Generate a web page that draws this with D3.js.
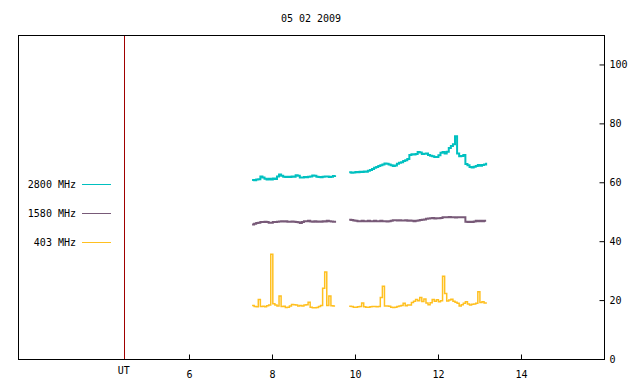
<!DOCTYPE html>
<html>
<head>
<meta charset="utf-8">
<script src="https://cdn.jsdelivr.net/npm/d3@7"></script>
<style>
  html, body { margin: 0; padding: 0; background: #fff; }
  svg { display: block; }
  text { font-family: "DejaVu Sans Mono", monospace; font-size: 10px; fill: #000; }
</style>
</head>
<body>
<svg id="chart" width="640" height="384"></svg>
<script>
// ---------- DATA ----------
const title = "05 02 2009";
const seriesNames = ["2800 MHz", "1580 MHz", "403 MHz"];
const seriesColors = ["#00c0c0", "#785a78", "#ffc020"];
const xTicks = [6, 8, 10, 12, 14];
const yTicks = [0, 20, 40, 60, 80, 100];
const utMarker = 4.43;
const utLabel = "UT";

// Hours UT, first observing block
const hoursA = [7.52,7.57,7.62,7.67,7.72,7.77,7.82,7.87,7.92,7.97,
  8.02,8.07,8.12,8.17,8.22,8.27,8.32,8.37,8.42,8.47,
  8.52,8.57,8.62,8.67,8.72,8.77,8.82,8.87,8.92,8.97,
  9.02,9.07,9.12,9.17,9.22,9.27,9.32,9.37,9.42,9.47,9.52];
// Hours UT, second observing block
const hoursB = [9.86,9.91,9.96,10.01,10.06,10.11,10.16,10.21,10.26,10.31,10.36,
  10.41,10.46,10.51,10.56,10.61,10.66,10.71,10.76,10.81,10.86,
  10.91,10.96,11.01,11.06,11.11,11.16,11.21,11.26,11.31,11.36,
  11.41,11.46,11.51,11.56,11.61,11.66,11.71,11.76,11.81,11.86,
  11.91,11.96,12.01,12.06,12.11,12.16,12.21,12.26,12.31,12.36,
  12.41,12.46,12.51,12.56,12.61,12.66,12.71,12.76,12.81,12.86,
  12.91,12.96,13.01,13.06,13.11,13.16];

const f2800A = [60.8,60.7,60.9,61.0,62.0,61.6,61.2,60.9,61.2,60.9,
  61.3,61.1,62.0,62.6,62.2,61.9,61.8,61.9,61.8,62.0,
  61.9,62.4,62.2,61.6,61.6,61.8,61.7,61.9,62.0,62.3,
  62.2,61.9,61.8,61.7,61.9,62.0,62.0,61.8,61.9,62.1,62.4];
const f2800B = [63.4,63.2,63.3,63.5,63.4,63.6,63.5,63.7,63.6,63.9,64.2,
  64.5,64.9,65.2,65.5,65.8,66.0,66.4,66.3,66.0,65.8,
  65.5,65.7,66.3,66.6,66.8,67.2,67.5,67.9,69.3,69.5,
  69.4,69.6,70.3,70.1,69.6,69.7,69.8,69.3,69.0,68.8,
  68.6,68.6,69.2,70.0,70.3,69.8,70.4,71.6,72.3,72.9,
  75.6,69.8,68.8,68.9,69.3,66.2,65.8,65.2,65.0,65.3,
  65.5,65.9,65.6,65.9,66.0,66.6];

const f1580A = [45.7,45.9,46.2,46.3,46.5,46.5,46.6,46.5,46.3,46.3,
  46.5,46.5,46.6,46.7,46.8,46.7,46.8,46.6,46.6,46.7,
  46.6,46.5,46.4,46.2,46.5,46.8,46.8,46.9,46.7,46.6,
  46.8,46.6,46.7,46.6,46.8,46.7,46.9,46.8,46.7,46.6,46.3];
const f1580B = [47.3,47.2,47.0,46.9,46.8,46.8,46.9,46.8,46.8,46.9,46.8,
  46.8,46.9,46.8,46.8,46.9,46.8,46.8,46.7,46.8,46.9,
  47.1,47.1,47.0,47.1,47.0,47.0,47.1,46.9,47.0,46.9,
  46.8,46.9,47.0,47.2,47.3,47.4,47.6,47.7,47.8,47.9,
  47.7,47.8,47.8,47.9,48.1,48.1,48.1,48.2,48.1,48.1,
  48.0,48.1,48.1,48.1,48.1,46.6,46.5,46.6,46.5,46.7,
  46.9,46.8,46.9,46.8,46.9,46.9];

const f403A = [18.2,17.8,17.7,20.2,17.8,17.9,17.7,18.1,18.3,35.6,
  18.8,18.3,18.0,21.4,17.8,17.9,17.5,17.6,18.0,18.5,
  18.4,18.3,18.0,18.2,18.0,18.3,18.4,19.3,17.6,17.4,
  17.4,17.5,17.8,18.2,24.0,29.5,18.2,21.4,18.1,18.0,18.0];
const f403B = [17.9,17.8,17.6,17.6,17.7,17.8,19.0,17.7,17.6,17.6,17.7,
  17.8,17.8,17.7,17.8,20.9,24.7,18.0,18.0,17.9,17.6,
  17.5,17.6,17.8,18.0,18.2,18.9,18.1,18.3,18.3,19.2,
  19.6,20.2,19.8,20.9,19.5,20.4,19.0,18.4,19.1,20.2,
  19.6,20.1,19.4,19.8,28.1,22.2,19.7,20.0,20.3,19.6,
  19.3,18.9,18.0,18.4,18.9,19.4,18.7,18.3,18.6,18.7,
  18.9,22.8,19.2,19.4,19.0,19.3];

// ---------- CHART ----------
const svg = d3.select("#chart");
const L = 18, R = 604, T = 35, B = 359;

const x = d3.scaleLinear().domain([1.88, 16]).range([L, R]);
const y = d3.scaleLinear().domain([0, 110]).range([B, T]);

const zip = (hs, vs) => hs.map((h, i) => [h, vs[i]]);
const series = [
  [zip(hoursA, f2800A), zip(hoursB, f2800B)],
  [zip(hoursA, f1580A), zip(hoursB, f1580B)],
  [zip(hoursA, f403A), zip(hoursB, f403B)]
];
const widths = [2, 2, 1.5];

const line = d3.line()
  .x(d => x(d[0]))
  .y(d => y(d[1]))
  .curve(d3.curveStepAfter);

// title
svg.append("text")
  .attr("x", (L + R) / 2).attr("y", 22)
  .attr("text-anchor", "middle")
  .text(title);

// data lines
series.forEach((segs, i) => {
  segs.forEach(seg => {
    svg.append("path")
      .attr("d", line(seg))
      .attr("fill", "none")
      .attr("stroke", seriesColors[i])
      .attr("stroke-width", widths[i]);
  });
});

// UT marker
svg.append("line")
  .attr("x1", Math.round(x(utMarker)) + 0.5).attr("x2", Math.round(x(utMarker)) + 0.5)
  .attr("y1", T).attr("y2", B)
  .attr("stroke", "#a00000").attr("stroke-width", 1);

// axes
const xAxis = d3.axisBottom(x).tickValues(xTicks).tickSizeInner(-5).tickSizeOuter(0).tickPadding(11);
const gx = svg.append("g").attr("transform", `translate(0,${B + 0.5})`).call(xAxis);
gx.select(".domain").remove();
gx.selectAll("line").attr("stroke", "#000");
gx.selectAll("text").attr("font-family", null).attr("font-size", null);

const yAxis = d3.axisRight(y).tickValues(yTicks).tickSizeInner(-5).tickSizeOuter(0).tickPadding(5);
const gy = svg.append("g").attr("transform", `translate(${R + 0.5},0)`).call(yAxis);
gy.select(".domain").remove();
gy.selectAll("line").attr("stroke", "#000");
gy.selectAll("text").attr("font-family", null).attr("font-size", null);

// UT label
svg.append("text")
  .attr("x", x(utMarker)).attr("y", 374)
  .attr("text-anchor", "middle")
  .text(utLabel);

// frame
svg.append("rect")
  .attr("x", L + 0.5).attr("y", T + 0.5)
  .attr("width", R - L).attr("height", B - T)
  .attr("fill", "none").attr("stroke", "#000").attr("stroke-width", 1);

// legend
const legendY = [184, 213, 242];
seriesNames.forEach((name, i) => {
  svg.append("text")
    .attr("x", 76).attr("y", legendY[i] + 3.5)
    .attr("text-anchor", "end")
    .text(name);
  svg.append("line")
    .attr("x1", 82).attr("x2", 111)
    .attr("y1", legendY[i] + 0.5).attr("y2", legendY[i] + 0.5)
    .attr("stroke", seriesColors[i]).attr("stroke-width", 1);
});
</script>
</body>
</html>
